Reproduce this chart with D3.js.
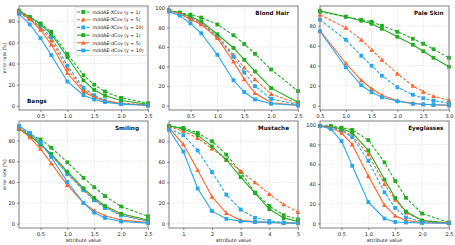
<!DOCTYPE html>
<html>
<head>
<meta charset="utf-8">
<script src="https://cdn.jsdelivr.net/npm/d3@7"></script>
<style>
  body { margin: 0; background: #fff; }
  svg { font-family: "DejaVu Sans", sans-serif; }
</style>
</head>
<body>
<svg id="chart" width="455" height="245"></svg>
<script>
// x values per panel
var xStd = [0.1, 0.3, 0.5, 0.7, 1.0, 1.3, 1.5, 1.7, 2.0, 2.5];
var xPale = [0.5, 1.0, 1.3, 1.5, 1.7, 2.0, 2.3, 2.5, 2.7, 3.0];
var xMustache = [0.5, 1.0, 1.5, 2.0, 2.5, 3.0, 3.5, 4.0, 4.5, 5.0];

var seriesNames = ["mddAE-XCov (\u03b3 = 1)", "mddAE-XCov (\u03b3 = 5)", "mddAE-XCov (\u03b3 = 10)",
                   "mddAE-dCov (\u03b3 = 1)", "mddAE-dCov (\u03b3 = 5)", "mddAE-dCov (\u03b3 = 10)"];
var seriesColor = ["#22ac22", "#ff6428", "#25a7ee", "#22ac22", "#ff6428", "#25a7ee"];
var seriesDash = [true, true, true, false, false, false];
var seriesMarker = ["square", "triangle", "square", "square", "triangle", "square"];

// error rates, order: XCov 1, XCov 5, XCov 10, dCov 1, dCov 5, dCov 10
var bangs = [
  [90, 84, 78, 70, 49, 29, 20, 13.5, 7.5, 2.5],
  [89, 83, 74, 62, 35, 15, 9, 5, 2.5, 1],
  [88, 82, 75, 65, 38, 17, 10, 5, 2, 0.5],
  [90, 84, 77, 68, 46, 24, 15, 9.5, 5, 1.5],
  [89, 82, 72, 58, 31, 13, 8, 4.5, 2, 0.5],
  [87, 77, 64, 48, 23, 10, 6, 3.5, 1.5, 0.5]
];
var blondHair = [
  [97, 95, 93, 90, 83, 72, 63, 53, 37, 15],
  [97, 94, 90, 85, 71, 52, 39, 27, 12, 2],
  [97, 94, 89, 84, 70, 50, 34, 20, 7, 1],
  [97, 95, 91, 86, 73, 59, 47, 35, 18, 3.5],
  [97, 94, 88, 83, 69, 45, 27, 13, 3, 0.5],
  [96, 92, 84, 74, 52, 26, 14, 6.5, 2, 0.5]
];
var paleSkin = [
  [94, 89, 86, 84, 80, 74, 67, 62, 56.5, 48],
  [91, 78, 66, 56, 46, 32, 20, 14, 9.5, 5.5],
  [86, 66, 50, 40, 30, 18.5, 11, 7.5, 5, 2.5],
  [95, 89, 85, 82, 77, 69, 61, 54.5, 48, 39],
  [75, 42.5, 25.5, 17, 10.5, 5, 2.5, 1.5, 1, 0.5],
  [74.5, 38.5, 20.5, 13.5, 8.5, 4.5, 2, 1.5, 1, 0.5]
];
var smiling = [
  [92, 86, 81, 73, 59, 44, 35, 26.5, 16.5, 7],
  [91, 84, 76, 66, 48, 33, 23, 16, 8.5, 2.5],
  [93, 87, 77, 66, 48, 32, 22.5, 15, 8, 2],
  [91, 85, 76, 67, 50, 34, 24.7, 17, 9.5, 3.5],
  [92, 83, 72, 58, 37, 20, 12.5, 7.5, 3.5, 1],
  [94, 87, 78, 64, 40, 20, 10.5, 5.5, 2, 0.5]
];
var mustache = [
  [95, 93, 88, 80, 67, 50, 30, 17, 8, 4],
  [94, 90, 83, 73, 62, 51, 40, 28.5, 18.5, 11],
  [92, 86, 71, 50, 28, 13.5, 5.5, 2.5, 1, 0.5],
  [95, 92, 86, 75, 62, 45, 29.5, 14, 5.3, 2],
  [93, 77, 52, 26, 10, 3, 1.5, 1, 0.5, 0.3],
  [91, 70, 34, 12, 4.5, 2, 1.5, 1, 0.5, 0.3]
];
var eyeglasses = [
  [99, 99, 97, 95, 84.5, 62, 43, 26, 10, 1],
  [99, 98, 95, 89, 70, 40, 24, 11, 3, 0.5],
  [99, 97, 94, 87.5, 63.5, 31.5, 15.7, 6, 2, 0.3],
  [99, 98, 96, 92, 74, 44.5, 25.8, 12, 3, 0.5],
  [99, 97, 92, 80, 48, 18.5, 7.7, 3, 1, 0.3],
  [99, 95.8, 83.6, 58.5, 21.6, 5, 1.5, 1, 0.5, 0.3]
];

var xTicksStd = [0.5, 1.0, 1.5, 2.0, 2.5];
var xTicksPale = [0.5, 1.0, 1.5, 2.0, 2.5, 3.0];
var xTicksMustache = [1, 2, 3, 4, 5];

var panels = [
  { title: "Bangs", x: xStd, ys: bangs, ticks: xTicksStd, fmt: ".1f", col: 0, row: 0, titlePos: "bl" },
  { title: "Blond Hair", x: xStd, ys: blondHair, ticks: xTicksStd, fmt: ".1f", col: 1, row: 0, titlePos: "tr" },
  { title: "Pale Skin", x: xPale, ys: paleSkin, ticks: xTicksPale, fmt: ".1f", col: 2, row: 0, titlePos: "tr" },
  { title: "Smiling", x: xStd, ys: smiling, ticks: xTicksStd, fmt: ".1f", col: 0, row: 1, titlePos: "tr" },
  { title: "Mustache", x: xMustache, ys: mustache, ticks: xTicksMustache, fmt: "d", col: 1, row: 1, titlePos: "tr" },
  { title: "Eyeglasses", x: xStd, ys: eyeglasses, ticks: xTicksStd, fmt: ".1f", col: 2, row: 1, titlePos: "tr" }
];

var colLeft = [19, 169, 320];
var panelW = 129;
var rowTop = [6, 121];
var rowH = [104, 107];
var titlePad = [9, 9, 5.5];

var svg = d3.select("#chart");

function drawMarker(g, type, cx, cy, color) {
    if (type == "square") {
        g.append("rect")
            .attr("x", cx - 1.9).attr("y", cy - 1.9)
            .attr("width", 3.8).attr("height", 3.8)
            .attr("fill", color);
    } else {
        var s = 2.4;
        g.append("path")
            .attr("d", "M" + cx + "," + (cy - s) + "L" + (cx + s) + "," + (cy + s * 0.8) + "L" + (cx - s) + "," + (cy + s * 0.8) + "Z")
            .attr("fill", color);
    }
}

panels.forEach(function (p) {
    var left = colLeft[p.col], top = rowTop[p.row], h = rowH[p.row];
    var g = svg.append("g");

    var allY = [].concat.apply([], p.ys);
    var ymin = d3.min(allY), ymax = d3.max(allY);
    var pad = (ymax - ymin) * 0.05;

    var x = d3.scaleLinear().domain(d3.extent(p.x)).range([left, left + panelW]);
    var y = d3.scaleLinear().domain([ymin - pad, ymax + pad]).range([top + h, top]);
    var yTicks = d3.range(0, ymax + pad + 0.01, 20);

    // grid
    g.selectAll(".gx").data(p.ticks).enter().append("line")
        .attr("x1", function (d) { return x(d); }).attr("x2", function (d) { return x(d); })
        .attr("y1", top).attr("y2", top + h)
        .attr("stroke", "#cfcfcf").attr("stroke-width", 0.6).attr("stroke-dasharray", "1,1.2");
    g.selectAll(".gy").data(yTicks).enter().append("line")
        .attr("x1", left).attr("x2", left + panelW)
        .attr("y1", function (d) { return y(d); }).attr("y2", function (d) { return y(d); })
        .attr("stroke", "#cfcfcf").attr("stroke-width", 0.6).attr("stroke-dasharray", "1,1.2");

    // series
    p.ys.forEach(function (vals, si) {
        var pts = vals.map(function (v, i) { return [p.x[i], v]; });
        var line = d3.line().x(function (d) { return x(d[0]); }).y(function (d) { return y(d[1]); });
        g.append("path")
            .attr("d", line(pts))
            .attr("fill", "none")
            .attr("stroke", seriesColor[si])
            .attr("stroke-width", 1.1)
            .attr("stroke-dasharray", seriesDash[si] ? "3,1.8" : null);
        pts.forEach(function (d) {
            drawMarker(g, seriesMarker[si], x(d[0]), y(d[1]), seriesColor[si]);
        });
    });

    // frame
    g.append("rect")
        .attr("x", left).attr("y", top).attr("width", panelW).attr("height", h)
        .attr("fill", "none").attr("stroke", "#8a8a8a").attr("stroke-width", 1.1);

    // axes
    var xa = g.append("g").attr("transform", "translate(0," + (top + h) + ")")
        .call(d3.axisBottom(x).tickValues(p.ticks).tickFormat(d3.format(p.fmt)).tickSize(2).tickPadding(2));
    var ya = g.append("g").attr("transform", "translate(" + left + ",0)")
        .call(d3.axisLeft(y).tickValues(yTicks).tickFormat(d3.format("d")).tickSize(2).tickPadding(2));
    [xa, ya].forEach(function (a) {
        a.select(".domain").remove();
        a.selectAll(".tick line").attr("stroke", "#444").attr("stroke-width", 0.6);
        a.selectAll(".tick text").attr("font-size", 5.1).attr("fill", "#222")
            .attr("font-family", "DejaVu Sans, sans-serif");
    });

    // title
    var t = g.append("text")
        .text(p.title)
        .attr("font-size", 5.7).attr("font-weight", "bold").attr("fill", "#111");
    if (p.titlePos == "tr") {
        t.attr("x", left + panelW - titlePad[p.col]).attr("y", top + 8.5).attr("text-anchor", "end");
    } else {
        t.attr("x", left + 8).attr("y", top + h - 7.5);
    }

    if (p.col == 0) {
        svg.append("text")
            .attr("transform", "translate(5.5," + (top + h / 2) + ") rotate(-90)")
            .attr("text-anchor", "middle")
            .attr("font-size", 4.5).attr("fill", "#222")
            .text("error rate (%)");
    }
    if (p.row == 1) {
        svg.append("text")
            .attr("x", left + panelW / 2).attr("y", 242)
            .attr("text-anchor", "middle")
            .attr("font-size", 4.8).attr("fill", "#222")
            .text("attribute value");
    }
});

// legend in the Bangs panel
var lg = svg.append("g");
lg.append("rect")
    .attr("x", 75).attr("y", 7).attr("width", 72).attr("height", 48.5)
    .attr("fill", "#fff").attr("fill-opacity", 0.9)
    .attr("stroke", "#d0d0d0").attr("stroke-width", 0.6).attr("rx", 1.5);
seriesNames.forEach(function (name, i) {
    var ly = 12 + i * 7.7;
    lg.append("line")
        .attr("x1", 77).attr("x2", 89.5).attr("y1", ly).attr("y2", ly)
        .attr("stroke", seriesColor[i]).attr("stroke-width", 1.1)
        .attr("stroke-dasharray", seriesDash[i] ? "3,1.8" : null);
    drawMarker(lg, seriesMarker[i], 83.2, ly, seriesColor[i]);
    lg.append("text")
        .attr("x", 92.5).attr("y", ly + 1.7)
        .attr("font-size", 4.7).attr("fill", "#222")
        .text(name);
});
</script>
</body>
</html>
